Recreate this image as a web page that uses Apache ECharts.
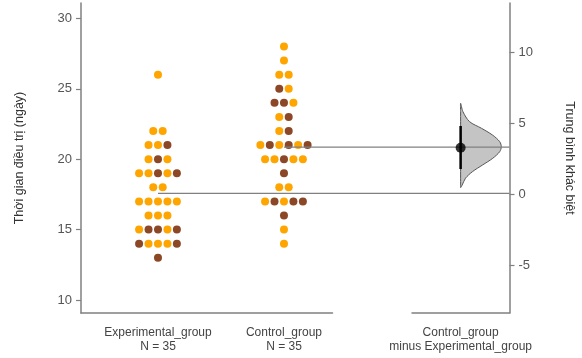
<!DOCTYPE html>
<html>
<head>
<meta charset="utf-8">
<script src="https://cdn.jsdelivr.net/npm/echarts@6/dist/echarts.min.js"></script>
<style>
html,body{margin:0;padding:0;background:#fff;}
#c{width:582px;height:358px;}
</style>
</head>
<body>
<div id="c"></div>
<script>
// ---- data ----
var groupNames = ['Experimental_group', 'Control_group'];
var diffLabel = 'Control_group\nminus Experimental_group';
var yTicks = [10, 15, 20, 25, 30];
var diffTicks = [-5, 0, 5, 10];
// values listed row by row, left to right; hue: 0 = orange, 1 = brown
var expValues = [26, 22,22, 21,21,21, 20,20,20, 19,19,19,19,19, 18,18, 17,17,17,17,17, 16,16,16, 15,15,15,15,15, 14,14,14,14,14, 13];
var expHue    = [0,  0,0,   0,0,1,    0,1,0,    0,0,1,0,1,      0,0,   0,0,0,0,0,      0,0,0,    0,1,1,0,1,      1,0,0,0,1,      1];
var ctrlValues = [28, 27, 26,26, 25,25, 24,24,24, 23,23, 22,22, 21,21,21,21,21,21, 20,20,20,20,20, 19, 18,18, 17,17,17,17,17, 16, 15, 14];
var ctrlHue    = [0,  0,  0,0,   1,0,   1,1,0,    0,1,   0,1,   0,1,0,1,0,1,       0,0,1,0,0,      1,  0,0,   0,1,0,1,1,      1,  0,  0];
// bootstrap distribution of the mean difference (diff value, relative density)
var violinDiff = [6.40, 5.81, 5.11, 4.65, 4.18, 3.71, 3.35, 3.00, 2.54, 2.07, 1.60, 1.14, 0.67, 0.48];
var violinDens = [0, 0.057, 0.22, 0.51, 0.78, 0.96, 1.0, 0.96, 0.79, 0.54, 0.29, 0.12, 0.04, 0];
var ciLow = 1.78, ciHigh = 4.80;

// ---- layout / style ----
var hueColors = ['#FFA500', '#8B4726'];
var xPos = [0, 1, 2.402];
var xMin = -0.611, xMax = 2.79;
var yMin = 9.08, yMax = 31.09;
var dMin = -8.32, dMax = 13.44;
var dotStep = 0.075;
var violinWidth = 0.323;
var gridTop = 3, gridBottom = 45, gridLeft = 81, gridRight = 72.5;

function mean(a){var s=0;for(var i=0;i<a.length;i++)s+=a[i];return s/a.length;}
var expMean = mean(expValues), ctrlMean = mean(ctrlValues);
var meanDiff = ctrlMean - expMean;

function swarm(values, hue, center){
  var rows = {};
  values.forEach(function(v,i){ (rows[v] = rows[v] || []).push(i); });
  var out = [[],[]];
  Object.keys(rows).forEach(function(k){
    var idx = rows[k], n = idx.length;
    idx.forEach(function(i,j){
      var x = center + (j - (n-1)/2) * dotStep;
      out[hue[i]].push([x, values[i]]);
    });
  });
  return out;
}
var expPts = swarm(expValues, expHue, xPos[0]);
var ctrlPts = swarm(ctrlValues, ctrlHue, xPos[1]);

var font = 'Liberation Sans, Arial, sans-serif';
var axisGray = '#808080';

var chart = echarts.init(document.getElementById('c'), null, {renderer:'canvas'});
var scatterBase = {type:'scatter', xAxisIndex:0, yAxisIndex:0, symbolSize:8, silent:true};
var series = [];
[expPts, ctrlPts].forEach(function(pts){
  [0,1].forEach(function(h){
    series.push(Object.assign({}, scatterBase, {
      data: pts[h], itemStyle:{color:hueColors[h], opacity:1}
    }));
  });
});
// mean lines
series.push({type:'line', xAxisIndex:0, yAxisIndex:0, symbol:'none', silent:true,
  data:[[xPos[0], expMean],[xMax, expMean]], lineStyle:{color:axisGray, width:1.3}});
series.push({type:'line', xAxisIndex:0, yAxisIndex:0, symbol:'none', silent:true,
  data:[[xPos[1], ctrlMean],[xMax, ctrlMean]], lineStyle:{color:axisGray, width:1.3}});
// violin (half)
series.push({type:'custom', xAxisIndex:0, yAxisIndex:1, silent:true, data:[0],
  renderItem:function(params, api){
    var pts = [];
    for (var i=0;i<violinDiff.length;i++) pts.push(api.coord([xPos[2] + violinDens[i]*violinWidth, violinDiff[i]]));
    for (var j=violinDiff.length-2;j>0;j--) pts.push(api.coord([xPos[2], violinDiff[j]]));
    return {type:'polygon', shape:{points:pts, smooth:0.3},
      style:{fill:'#c4c4c4', stroke:'#555', lineWidth:1}};
  }, z:3});
// CI line
series.push({type:'line', xAxisIndex:0, yAxisIndex:1, symbol:'none', silent:true, z:4,
  data:[[xPos[2], ciLow],[xPos[2], ciHigh]], lineStyle:{color:'#000', width:2.5}});
// mean difference dot
series.push({type:'scatter', xAxisIndex:0, yAxisIndex:1, silent:true, z:5, symbolSize:10,
  data:[[xPos[2], meanDiff]], itemStyle:{color:'#000'}});

var xLabels = groupNames.map(function(g,i){ return g + '\nN = ' + [expValues,ctrlValues][i].length; }).concat([diffLabel]);

var option = {
  animation:false,
  textStyle:{fontFamily:font},
  grid:[
    {left:gridLeft, right:gridRight, top:gridTop, bottom:gridBottom, outerBoundsMode:'none', containLabel:false},
    {left:gridLeft, width:251.5, top:gridTop, bottom:gridBottom, outerBoundsMode:'none', containLabel:false},
    {left:412, right:gridRight, top:gridTop, bottom:gridBottom, outerBoundsMode:'none', containLabel:false}
  ],
  xAxis:[
    {type:'value', gridIndex:0, min:xMin, max:xMax, splitLine:{show:false},
     axisLine:{show:false}, axisTick:{show:false},
     axisLabel:{customValues:xPos, margin:13, color:'#444', fontSize:12, lineHeight:14, fontFamily:font,
       formatter:function(v){ var k=0; for(var i=0;i<xPos.length;i++){ if(Math.abs(xPos[i]-v)<1e-6) k=i; } return xLabels[k]; }}},
    {type:'value', gridIndex:1, min:0, max:1, splitLine:{show:false}, axisTick:{show:false}, axisLabel:{show:false},
     axisLine:{show:true, onZero:false, lineStyle:{color:axisGray, width:1.5}}},
    {type:'value', gridIndex:2, min:0, max:1, splitLine:{show:false}, axisTick:{show:false}, axisLabel:{show:false},
     axisLine:{show:true, onZero:false, lineStyle:{color:axisGray, width:1.5}}}
  ],
  yAxis:[
    {type:'value', gridIndex:0, position:'left', min:yMin, max:yMax, splitLine:{show:false},
     axisLine:{show:true, onZero:false, lineStyle:{color:axisGray, width:1.5}},
     axisTick:{show:true, customValues:yTicks, length:5, lineStyle:{color:axisGray, width:1.2}},
     axisLabel:{customValues:yTicks, margin:9, color:'#555', fontSize:13, fontFamily:font},
     name:'Thời gian điều trị (ngày)', nameLocation:'middle', nameGap:55,
     nameTextStyle:{color:'#333', fontSize:12.5, fontFamily:font}},
    {type:'value', gridIndex:0, position:'right', min:dMin, max:dMax, splitLine:{show:false},
     axisLine:{show:true, onZero:false, lineStyle:{color:axisGray, width:1.5}},
     axisTick:{show:true, customValues:diffTicks, length:5, lineStyle:{color:axisGray, width:1.2}},
     axisLabel:{customValues:diffTicks, margin:9, color:'#555', fontSize:13, fontFamily:font},
     name:'Trung bình khác biệt', nameLocation:'middle', nameGap:53, nameRotate:-90,
     nameTextStyle:{color:'#333', fontSize:12.5, fontFamily:font}},
    {type:'value', gridIndex:1, show:false},
    {type:'value', gridIndex:2, show:false}
  ],
  series: series
};
chart.setOption(option);
</script>
</body>
</html>
